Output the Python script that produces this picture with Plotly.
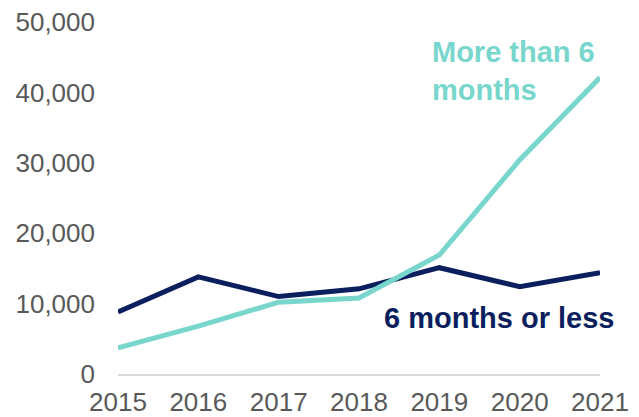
import plotly.graph_objects as go

years = [2015, 2016, 2017, 2018, 2019, 2020, 2021]
six_or_less = [8800, 13800, 11000, 12100, 15100, 12400, 14400]
more_than_six = [3700, 6800, 10200, 10800, 16900, 30400, 42100]
y_ticks = [0, 10000, 20000, 30000, 40000, 50000]
y_tick_labels = ["0", "10,000", "20,000", "30,000", "40,000", "50,000"]

NAVY = "#0B1F5E"
TEAL = "#78D6CD"
FONT = "Liberation Sans, Arial, sans-serif"

fig = go.Figure()
fig.add_trace(go.Scatter(x=years, y=six_or_less, mode="lines",
                         line=dict(color=NAVY, width=5), name="6 months or less"))
fig.add_trace(go.Scatter(x=years, y=more_than_six, mode="lines",
                         line=dict(color=TEAL, width=5), name="More than 6 months"))

fig.add_annotation(x=2018.88, y=43100, xref="x", yref="y", xanchor="left", yanchor="middle",
                   text="<b>More than 6<br>months</b>", showarrow=False, align="left",
                   font=dict(family=FONT, size=29, color=TEAL))
fig.add_annotation(x=2018.29, y=7970, xref="x", yref="y", xanchor="left", yanchor="middle",
                   text="<b>6 months or less</b>", showarrow=False, align="left",
                   font=dict(family=FONT, size=29, color=NAVY))

# page body has an 8px default margin, so the figure is sized to fit the window
fig.update_layout(
    width=631, height=409,
    margin=dict(l=110, r=39, t=14, b=43),
    paper_bgcolor="white", plot_bgcolor="white",
    showlegend=False,
    font=dict(family=FONT, size=26, color="#595959"),
    xaxis=dict(range=[2015, 2021], tickvals=years, ticktext=[str(y) for y in years],
               showgrid=False, zeroline=False, showline=True, linecolor="#D9D9D9",
               linewidth=2, ticks="", ticklabelstandoff=4, automargin=False,
               ticklabeloverflow="allow", fixedrange=True),
    yaxis=dict(range=[0, 50000], tickvals=y_ticks, ticktext=y_tick_labels,
               showgrid=False, zeroline=False, showline=False, ticks="",
               ticklabelstandoff=22, automargin=False, ticklabeloverflow="allow",
               fixedrange=True),
)

fig.write_html("out.html")
